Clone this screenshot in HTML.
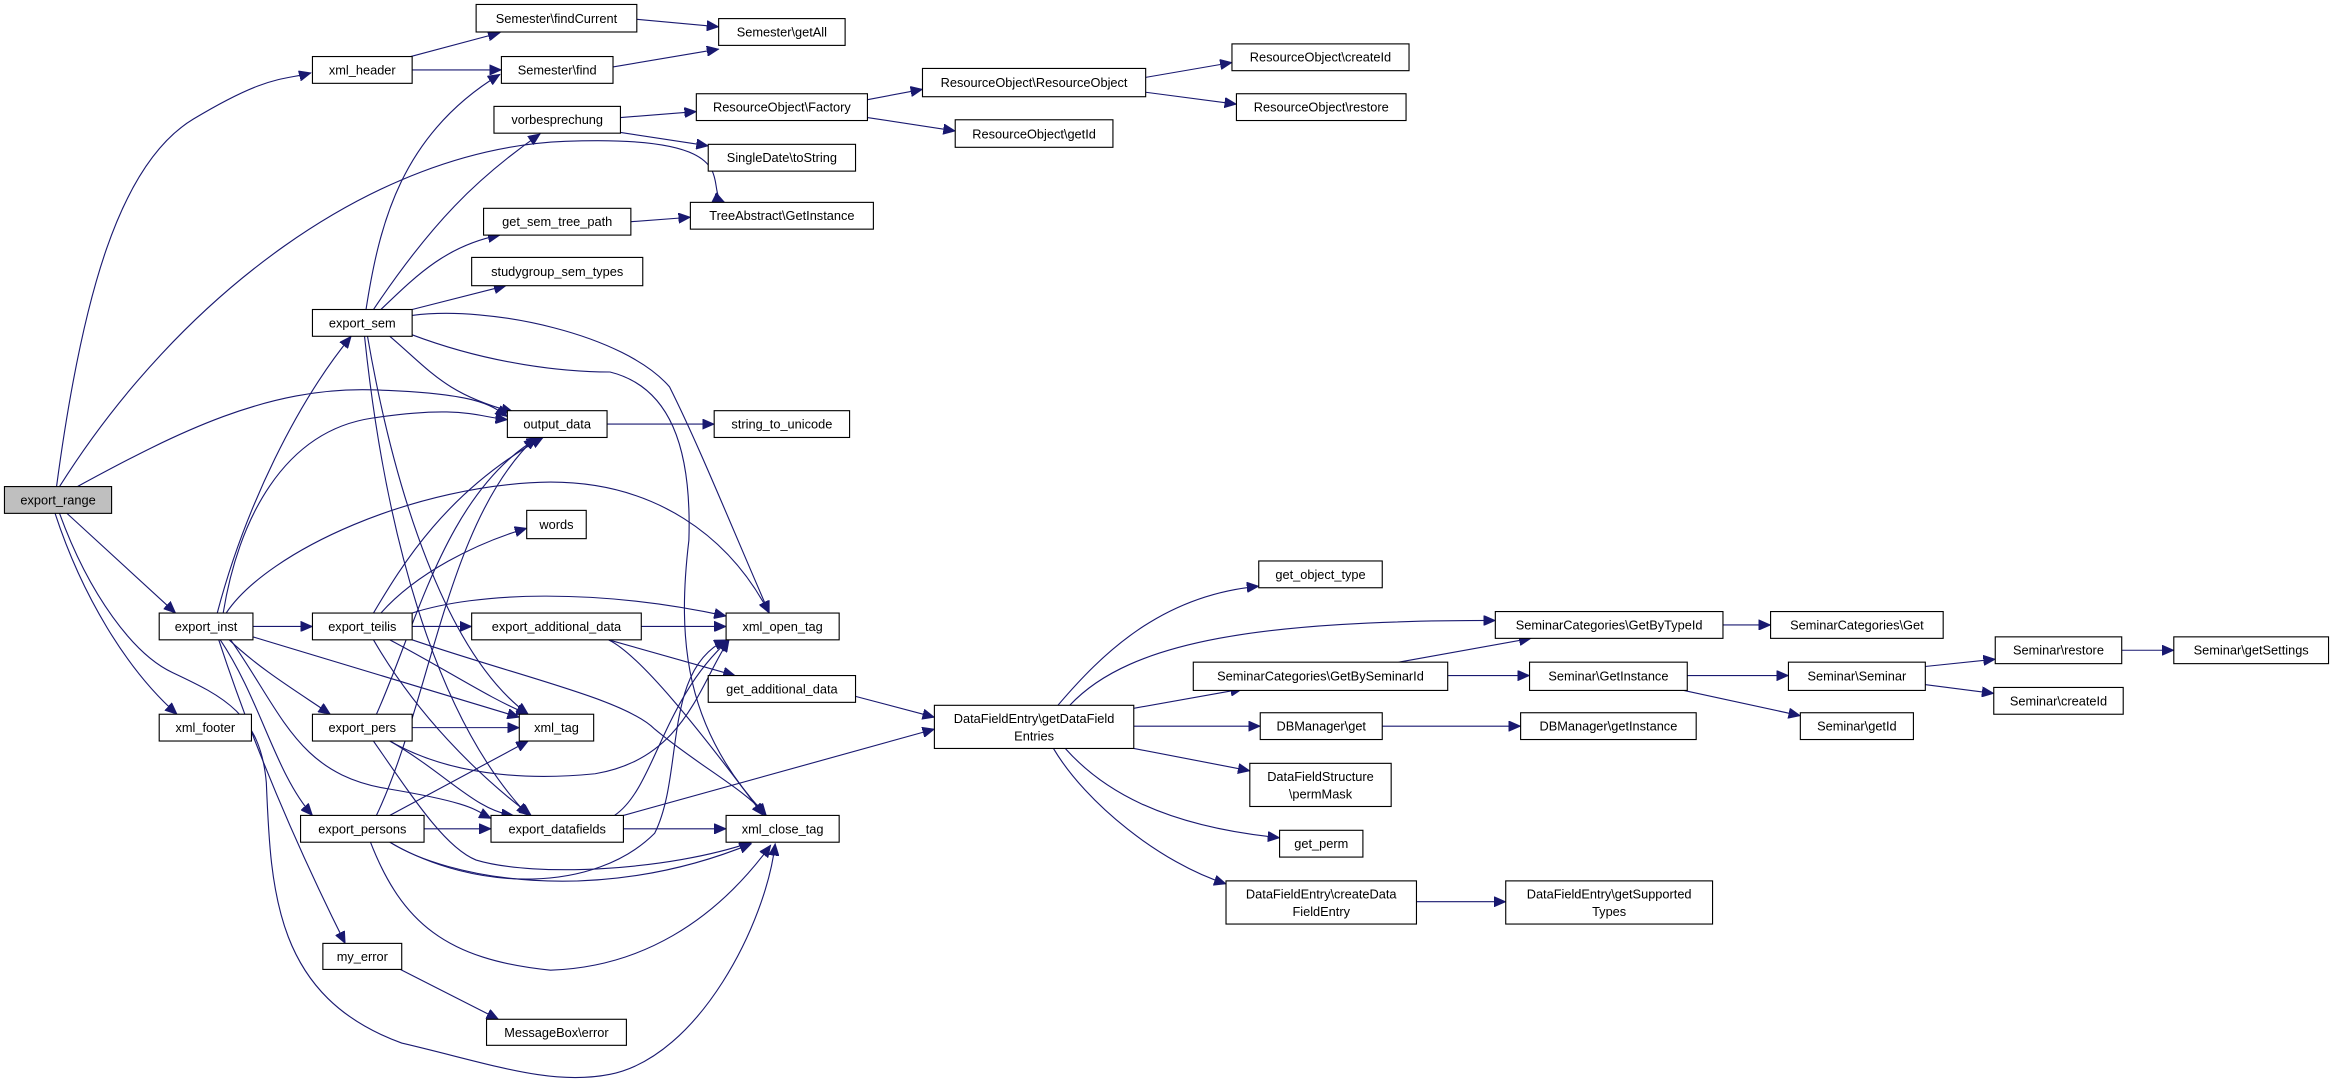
<!DOCTYPE html>
<html><head><meta charset="utf-8"><style>
html,body{margin:0;padding:0;background:#fff;}
svg{display:block;}
text{font-family:"Liberation Sans",sans-serif;font-size:8.6px;fill:#000;text-anchor:middle;}
.n{fill:#fff;stroke:#000;stroke-width:0.75;}
.e{fill:none;stroke:#191970;stroke-width:0.75;marker-end:url(#a);}
</style></head><body>
<svg width="2333" height="1084" viewBox="0 0 1568 728.5" preserveAspectRatio="none" xmlns="http://www.w3.org/2000/svg">
<defs><marker id="a" markerUnits="userSpaceOnUse" markerWidth="9" markerHeight="7" refX="8" refY="3.5" orient="auto"><path d="M0,0 L8,3.5 L0,7 z" fill="#191970" stroke="#191970" stroke-width="0.5"/></marker></defs>
<g>
<path class="e" d="M38,327 C55,200 80,110 130,80 S190,54 209,49"/>
<path class="e" d="M40,327 C120,200 250,100 380,95 S470,128 487,136"/>
<path class="e" d="M52,327 C120,290 180,260 250,262 S330,272 341,280"/>
<path class="e" d="M45,345 L118,412"/>
<path class="e" d="M37,345 C55,400 85,450 119,480"/>
<path class="e" d="M40,345 C60,400 90,440 116,452 C150,468 175,480 179,526 C182,600 185,670 270,701 C330,715 370,730 410,722 C470,710 515,620 521,567"/>
<path class="e" d="M146,412 C165,340 200,270 236,226"/>
<path class="e" d="M150,412 C160,350 190,290 250,281 S320,280 341,282"/>
<path class="e" d="M152,412 C180,370 280,325 370,324 C440,324 490,360 517,412"/>
<path class="e" d="M277,212 C330,205 420,225 450,260 C470,300 490,350 517,412"/>
<path class="e" d="M277,225 C330,245 380,250 410,250 C450,260 465,300 463,363 C455,430 460,490 515,548"/>
<path class="e" d="M262,226 C290,250 300,265 345,277"/>
<path class="e" d="M246,208 C255,150 270,90 336,50"/>
<path class="e" d="M251,208 C290,150 320,120 363,90"/>
<path class="e" d="M256,208 C280,185 300,165 336,158"/>
<path class="e" d="M277,208 L340,192"/>
<path class="e" d="M247,226 C265,330 300,440 355,480"/>
<path class="e" d="M245,226 C258,350 290,480 355,548"/>
<path class="e" d="M170,421 L210,421"/>
<path class="e" d="M170,428 L349,482"/>
<path class="e" d="M154,430 C175,450 200,465 222,480"/>
<path class="e" d="M155,430 C190,480 200,520 260,530 S320,545 330,550"/>
<path class="e" d="M148,430 C175,470 185,520 210,548"/>
<path class="e" d="M147,430 C170,500 200,570 232,634"/>
<path class="e" d="M277,421 L317,421"/>
<path class="e" d="M277,412 C320,398 400,395 488,414"/>
<path class="e" d="M262,430 C300,450 330,470 355,480"/>
<path class="e" d="M251,430 C280,480 320,520 357,548"/>
<path class="e" d="M277,430 C350,455 420,470 440,490 C470,515 500,530 515,548"/>
<path class="e" d="M251,412 C270,380 300,330 365,294"/>
<path class="e" d="M256,412 C280,385 320,365 354,355"/>
<path class="e" d="M277,489 L349,489"/>
<path class="e" d="M253,480 C280,420 300,330 362,294"/>
<path class="e" d="M262,498 C300,520 350,525 400,520 C460,510 470,460 490,430"/>
<path class="e" d="M262,498 C300,520 320,545 345,548"/>
<path class="e" d="M251,498 C280,540 300,570 320,578 C360,590 450,585 505,566"/>
<path class="e" d="M285,557 L330,557"/>
<path class="e" d="M262,548 L355,498"/>
<path class="e" d="M253,548 C290,470 300,350 360,294"/>
<path class="e" d="M262,566 C300,590 400,610 505,567"/>
<path class="e" d="M249,566 C270,620 300,645 370,652 C430,650 480,620 518,568"/>
<path class="e" d="M262,566 C320,600 400,600 440,560 C460,520 445,450 488,430"/>
<path class="e" d="M419,557 L488,557"/>
<path class="e" d="M413,548 C440,530 445,470 490,430"/>
<path class="e" d="M419,548 L628,490"/>
<path class="e" d="M431,421 L488,421"/>
<path class="e" d="M409,430 L494,454"/>
<path class="e" d="M409,430 C430,440 470,490 513,548"/>
<path class="e" d="M575,468 L628,482"/>
<path class="e" d="M276,38 L336,22"/>
<path class="e" d="M277,47 L337,47"/>
<path class="e" d="M428,13 L483,18"/>
<path class="e" d="M412,45 L483,33"/>
<path class="e" d="M417,79 L468,75"/>
<path class="e" d="M417,89 L476,98"/>
<path class="e" d="M583,67 L620,60"/>
<path class="e" d="M583,79 L642,88"/>
<path class="e" d="M770,52 L828,42"/>
<path class="e" d="M770,62 L831,70"/>
<path class="e" d="M424,149 L464,146"/>
<path class="e" d="M408,285 L480,285"/>
<path class="e" d="M268,651 L335,685"/>
<path class="e" d="M711,474 C740,440 780,400 846,394"/>
<path class="e" d="M719,474 C760,430 850,417 1005,417"/>
<path class="e" d="M762,476 L835,463"/>
<path class="e" d="M762,488 L847,488"/>
<path class="e" d="M762,503 L840,518"/>
<path class="e" d="M716,503 C740,530 780,555 860,563"/>
<path class="e" d="M708,503 C730,540 780,580 824,594"/>
<path class="e" d="M940,445 L1029,429"/>
<path class="e" d="M973,454 L1028,454"/>
<path class="e" d="M1158,420 L1190,420"/>
<path class="e" d="M1134,454 L1202,454"/>
<path class="e" d="M1127,463 L1210,481"/>
<path class="e" d="M1293,448 L1341,443"/>
<path class="e" d="M1293,460 L1340,466"/>
<path class="e" d="M1426,437 L1461,437"/>
<path class="e" d="M929,488 L1022,488"/>
<path class="e" d="M952,606 L1012,606"/>
</g>
<g>
<rect x="3" y="327" width="72" height="18" fill="#bfbfbf" stroke="#000" stroke-width="0.75"/><text x="39" y="339">export_range</text>
<rect class="n" x="210" y="38" width="67" height="18"/><text x="243.5" y="50">xml_header</text>
<rect class="n" x="320" y="3" width="108" height="18.5"/><text x="374" y="15.5">Semester\findCurrent</text>
<rect class="n" x="483" y="12.5" width="85" height="18"/><text x="525.5" y="24.5">Semester\getAll</text>
<rect class="n" x="337" y="38" width="75" height="18"/><text x="374.5" y="50">Semester\find</text>
<rect class="n" x="332" y="71.5" width="85" height="18"/><text x="374.5" y="83.5">vorbesprechung</text>
<rect class="n" x="468" y="63" width="115" height="18"/><text x="525.5" y="75">ResourceObject\Factory</text>
<rect class="n" x="476" y="97" width="99" height="18"/><text x="525.5" y="109">SingleDate\toString</text>
<rect class="n" x="620" y="46" width="150" height="19"/><text x="695" y="58.5">ResourceObject\ResourceObject</text>
<rect class="n" x="828" y="29.5" width="119" height="18"/><text x="887.5" y="41.5">ResourceObject\createId</text>
<rect class="n" x="831" y="63" width="114" height="18"/><text x="888" y="75">ResourceObject\restore</text>
<rect class="n" x="642" y="80.5" width="106" height="18.5"/><text x="695" y="93">ResourceObject\getId</text>
<rect class="n" x="464" y="136" width="123" height="18"/><text x="525.5" y="148">TreeAbstract\GetInstance</text>
<rect class="n" x="325" y="140" width="99" height="18"/><text x="374.5" y="152">get_sem_tree_path</text>
<rect class="n" x="317" y="173" width="115" height="19"/><text x="374.5" y="185.5">studygroup_sem_types</text>
<rect class="n" x="210" y="208" width="67" height="18"/><text x="243.5" y="220">export_sem</text>
<rect class="n" x="341" y="276" width="67" height="18"/><text x="374.5" y="288">output_data</text>
<rect class="n" x="480" y="276" width="91" height="18"/><text x="525.5" y="288">string_to_unicode</text>
<rect class="n" x="354" y="343" width="40" height="19"/><text x="374" y="355.5">words</text>
<rect class="n" x="107" y="412" width="63" height="18"/><text x="138.5" y="424">export_inst</text>
<rect class="n" x="210" y="412" width="67" height="18"/><text x="243.5" y="424">export_teilis</text>
<rect class="n" x="317" y="412" width="114" height="18"/><text x="374" y="424">export_additional_data</text>
<rect class="n" x="488" y="412" width="76" height="18"/><text x="526" y="424">xml_open_tag</text>
<rect class="n" x="476" y="454" width="99" height="18"/><text x="525.5" y="466">get_additional_data</text>
<rect class="n" x="107" y="480" width="62" height="18"/><text x="138" y="492">xml_footer</text>
<rect class="n" x="210" y="480" width="67" height="18"/><text x="243.5" y="492">export_pers</text>
<rect class="n" x="349" y="480" width="50" height="18"/><text x="374" y="492">xml_tag</text>
<rect class="n" x="202" y="548" width="83" height="18"/><text x="243.5" y="560">export_persons</text>
<rect class="n" x="330" y="548" width="89" height="18"/><text x="374.5" y="560">export_datafields</text>
<rect class="n" x="488" y="548" width="76" height="18"/><text x="526" y="560">xml_close_tag</text>
<rect class="n" x="217" y="634" width="53" height="17.5"/><text x="243.5" y="646">my_error</text>
<rect class="n" x="327" y="685" width="94" height="17.5"/><text x="374" y="697">MessageBox\error</text>
<rect class="n" x="628" y="474" width="134" height="29"/><text x="695" y="486">DataFieldEntry\getDataField</text><text x="695" y="497.5">Entries</text>
<rect class="n" x="846" y="377" width="83" height="18"/><text x="887.5" y="389">get_object_type</text>
<rect class="n" x="1005" y="411" width="153" height="18"/><text x="1081.5" y="423">SeminarCategories\GetByTypeId</text>
<rect class="n" x="1190" y="411" width="116" height="18"/><text x="1248" y="423">SeminarCategories\Get</text>
<rect class="n" x="1341" y="428" width="85" height="18"/><text x="1383.5" y="440">Seminar\restore</text>
<rect class="n" x="1461" y="428" width="104" height="18"/><text x="1513" y="440">Seminar\getSettings</text>
<rect class="n" x="802" y="445" width="171" height="19"/><text x="887.5" y="457.5">SeminarCategories\GetBySeminarId</text>
<rect class="n" x="1028" y="445" width="106" height="19"/><text x="1081" y="457.5">Seminar\GetInstance</text>
<rect class="n" x="1202" y="445" width="92" height="19"/><text x="1248" y="457.5">Seminar\Seminar</text>
<rect class="n" x="1340" y="462" width="87" height="18"/><text x="1383.5" y="474">Seminar\createId</text>
<rect class="n" x="847" y="479" width="82" height="18"/><text x="888" y="491">DBManager\get</text>
<rect class="n" x="1022" y="479" width="118" height="18"/><text x="1081" y="491">DBManager\getInstance</text>
<rect class="n" x="1210" y="479" width="76" height="18"/><text x="1248" y="491">Seminar\getId</text>
<rect class="n" x="840" y="513" width="95" height="29"/><text x="887.5" y="525">DataFieldStructure</text><text x="887.5" y="536.5">\permMask</text>
<rect class="n" x="860" y="558" width="56" height="18"/><text x="888" y="570">get_perm</text>
<rect class="n" x="824" y="592" width="128" height="29"/><text x="888" y="604">DataFieldEntry\createData</text><text x="888" y="615.5">FieldEntry</text>
<rect class="n" x="1012" y="592" width="139" height="29"/><text x="1081.5" y="604">DataFieldEntry\getSupported</text><text x="1081.5" y="615.5">Types</text>
</g>
</svg>
</body></html>
